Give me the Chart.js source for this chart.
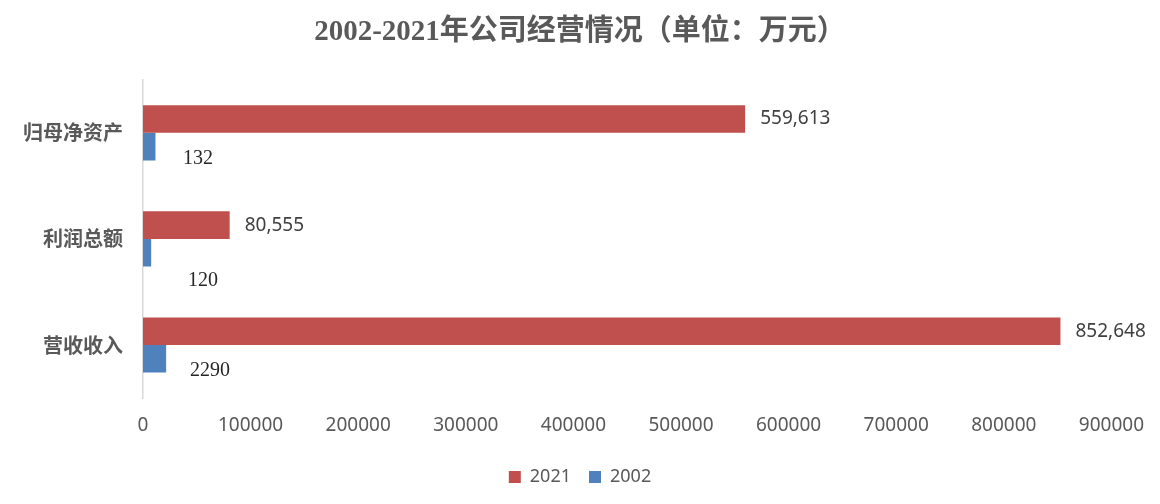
<!DOCTYPE html>
<html>
<head>
<meta charset="utf-8">
<script src="https://cdn.jsdelivr.net/npm/chart.js@4/dist/chart.umd.min.js"></script>
<style>
  body { margin: 0; background: #fff; }
</style>
</head>
<body>
<canvas id="chart" width="1160" height="504"></canvas>
<script>
// data
const categories = ['归母净资产', '利润总额', '营收收入'];
const values2021 = [559613, 80555, 852648];
// 2002 bars are drawn longer than their labels say, so lengths are kept apart from the label text
const values2002 = [11600, 7600, 21500];
const labels2002 = ['132', '120', '2290'];
const xTicks = [0, 100000, 200000, 300000, 400000, 500000, 600000, 700000, 800000, 900000];

const labelPlugin = {
    id: 'barLabels',
    afterDatasetsDraw(chart) {
        const ctx = chart.ctx;
        ctx.save();
        ctx.textBaseline = 'middle';
        ctx.textAlign = 'left';

        // 2021: value with commas, just past the bar end
        chart.getDatasetMeta(0).data.forEach((bar, i) => {
            ctx.font = '19px "Noto Sans", sans-serif';
            ctx.fillStyle = '#404040';
            ctx.fillText(values2021[i].toLocaleString('en-US'), bar.x + 15, bar.y);
        });

        // 2002: serif labels sitting a bit below and right of the bar
        const dx = [40, 45, 47];
        const dy = [12, 28, 12];
        chart.getDatasetMeta(1).data.forEach((bar, i) => {
            ctx.font = '20px "Liberation Serif", serif';
            ctx.fillStyle = '#262626';
            ctx.fillText(labels2002[i], bar.base + dx[i], bar.y + dy[i]);
        });
        ctx.restore();
    }
};

const ctx = document.getElementById('chart').getContext('2d');
new Chart(ctx, {
    type: 'bar',
    data: {
        labels: categories,
        datasets: [
            {
                label: '2021',
                data: values2021,
                backgroundColor: '#C0504D',
                borderWidth: 0
            },
            {
                label: '2002',
                data: values2002,
                backgroundColor: '#4F81BD',
                borderWidth: 0
            }
        ]
    },
    options: {
        indexAxis: 'y',
        responsive: false,
        animation: false,
        devicePixelRatio: 1,
        categoryPercentage: 0.52,
        barPercentage: 1,
        layout: {
            padding: { left: 0, right: 0, top: 0, bottom: 8 }
        },
        scales: {
            x: {
                min: 0,
                max: 900000,
                afterBuildTicks: (scale) => {
                    scale.ticks = xTicks.map(v => ({ value: v }));
                },
                afterFit: (scale) => { scale.height = 52; },
                grid: { display: false, drawTicks: false },
                border: { display: false },
                ticks: {
                    padding: 16,
                    color: '#595959',
                    font: { family: '"Noto Sans", sans-serif', size: 19 },
                    callback: (v) => String(v)
                }
            },
            y: {
                afterFit: (scale) => { scale.width = 143; },
                grid: { display: false, drawTicks: false },
                border: { display: true, color: '#D9D9D9', width: 1.5 },
                ticks: {
                    padding: 20,
                    color: '#595959',
                    font: { family: '"Noto Sans CJK SC", sans-serif', size: 20, weight: 'bold' }
                }
            },
            // empty right-hand axis: reserves the right margin so title and legend stay centred
            yRight: {
                type: 'category',
                position: 'right',
                afterFit: (scale) => { scale.width = 46; },
                grid: { display: false, drawTicks: false },
                border: { display: false },
                ticks: { display: false }
            }
        },
        plugins: {
            title: {
                display: true,
                text: '2002-2021年公司经营情况（单位：万元）',
                color: '#595959',
                font: { family: '"Liberation Serif", "Noto Sans CJK SC", serif', size: 29, weight: 'bold' },
                padding: { top: 15, bottom: 30 }
            },
            legend: {
                position: 'bottom',
                labels: {
                    boxWidth: 12,
                    boxHeight: 12,
                    padding: 18,
                    color: '#595959',
                    font: { family: '"Noto Sans", sans-serif', size: 18 }
                }
            },
            tooltip: { enabled: false }
        }
    },
    plugins: [labelPlugin]
});
</script>
</body>
</html>
